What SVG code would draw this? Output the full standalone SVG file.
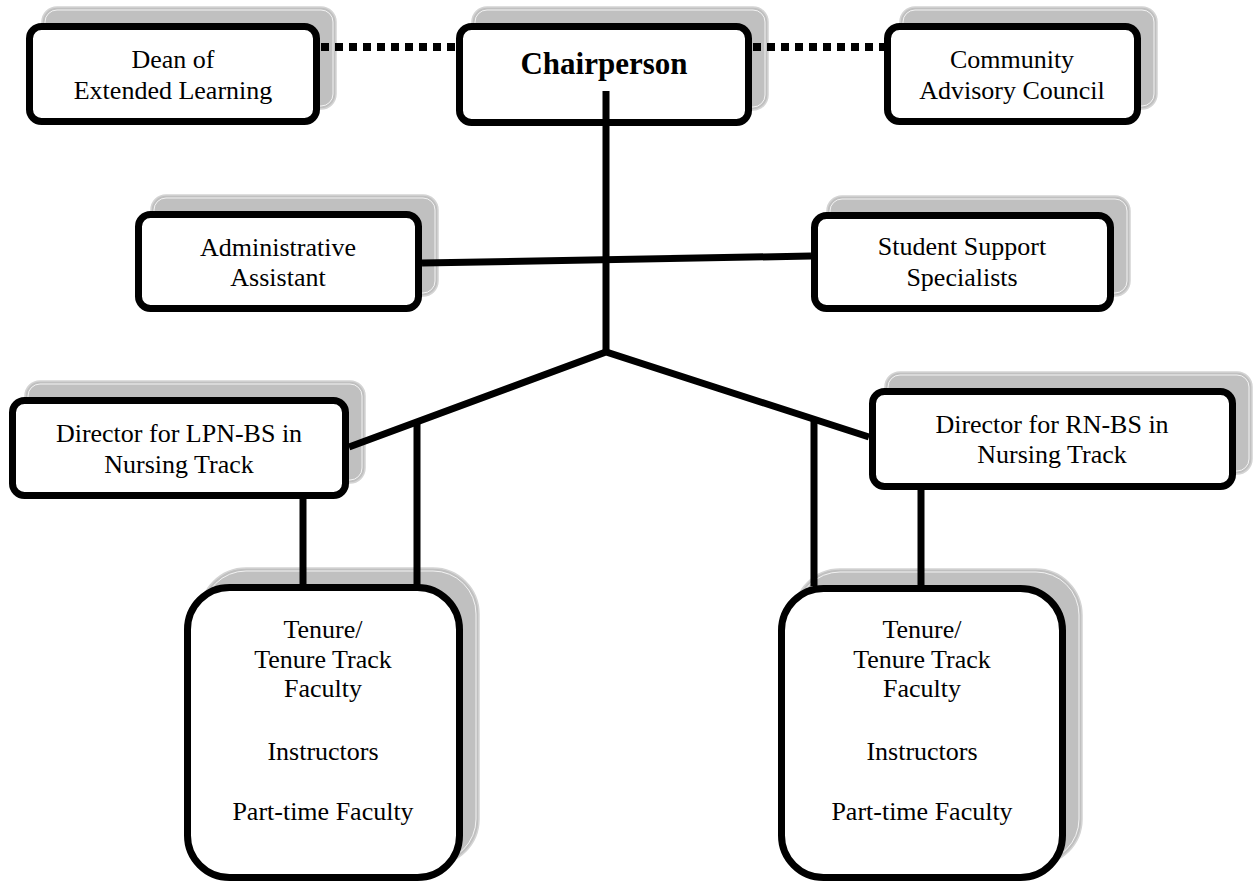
<svg xmlns="http://www.w3.org/2000/svg" width="1258" height="882" viewBox="0 0 1258 882">
  <style>
    .shadow { fill: #c0c0c0; stroke: #d4d4d4; stroke-width: 1.5; }
    .shadow-rim { fill: none; stroke: #ffffff; stroke-width: 0.8; }
    .box { fill: #ffffff; stroke: #000000; stroke-width: 7; }
    .label { font-family: "Liberation Serif", "Times New Roman", serif; font-size: 26px; fill: #000000; text-anchor: middle; }
    .title { font-family: "Liberation Serif", "Times New Roman", serif; font-size: 31px; font-weight: bold; fill: #000000; text-anchor: middle; }
    .link { stroke: #000000; stroke-width: 7; fill: none; }
    .dotted { stroke: #000000; stroke-width: 8; fill: none; stroke-dasharray: 8 6; }
  </style>

  <g id="dean">
    <rect class="shadow" x="42" y="7" width="294" height="102" rx="15"/>
    <rect class="shadow-rim" x="45" y="10" width="288" height="96" rx="12"/>
    <rect class="box" x="29.5" y="26.5" width="287" height="95" rx="12"/>
    <text class="label" x="173" y="68">Dean of</text>
    <text class="label" x="173" y="99">Extended Learning</text>
  </g>

  <g id="chairperson">
    <rect class="shadow" x="472" y="7" width="296" height="103" rx="15"/>
    <rect class="shadow-rim" x="475" y="10" width="290" height="97" rx="12"/>
    <rect class="box" x="459.5" y="26.5" width="289" height="96" rx="12"/>
    <text class="title" x="604" y="74">Chairperson</text>
  </g>

  <g id="advisory-council">
    <rect class="shadow" x="900" y="7" width="257" height="102" rx="15"/>
    <rect class="shadow-rim" x="903" y="10" width="251" height="96" rx="12"/>
    <rect class="box" x="887.5" y="26.5" width="250" height="95" rx="12"/>
    <text class="label" x="1012" y="68">Community</text>
    <text class="label" x="1012" y="99">Advisory Council</text>
  </g>

  <g id="admin-assistant">
    <rect class="shadow" x="151" y="195" width="287" height="101" rx="15"/>
    <rect class="shadow-rim" x="154" y="198" width="281" height="95" rx="12"/>
    <rect class="box" x="138.5" y="214.5" width="280" height="94" rx="12"/>
    <text class="label" x="278" y="256">Administrative</text>
    <text class="label" x="278" y="286">Assistant</text>
  </g>

  <g id="student-support">
    <rect class="shadow" x="827" y="196" width="303" height="100" rx="15"/>
    <rect class="shadow-rim" x="830" y="199" width="297" height="94" rx="12"/>
    <rect class="box" x="814.5" y="215.5" width="296" height="93" rx="12"/>
    <text class="label" x="962" y="255">Student Support</text>
    <text class="label" x="962" y="286">Specialists</text>
  </g>

  <g id="lpn-director">
    <rect class="shadow" x="25" y="381" width="340" height="102" rx="15"/>
    <rect class="shadow-rim" x="28" y="384" width="334" height="96" rx="12"/>
    <rect class="box" x="12.5" y="400.5" width="333" height="95" rx="12"/>
    <text class="label" x="179" y="442">Director for LPN-BS in</text>
    <text class="label" x="179" y="473">Nursing Track</text>
  </g>

  <g id="rn-director">
    <rect class="shadow" x="885" y="372" width="367" height="102" rx="15"/>
    <rect class="shadow-rim" x="888" y="375" width="361" height="96" rx="12"/>
    <rect class="box" x="872.5" y="391.5" width="360" height="95" rx="12"/>
    <text class="label" x="1052" y="433">Director for RN-BS in</text>
    <text class="label" x="1052" y="463">Nursing Track</text>
  </g>

  <g id="lpn-faculty">
    <rect class="shadow" x="200" y="568" width="279" height="297" rx="46"/>
    <rect class="shadow-rim" x="203" y="571" width="273" height="291" rx="43"/>
    <rect class="box" x="187.5" y="587.5" width="272" height="290" rx="42"/>
    <text class="label" x="323" y="638">Tenure/</text>
    <text class="label" x="323" y="668">Tenure Track</text>
    <text class="label" x="323" y="697">Faculty</text>
    <text class="label" x="323" y="760">Instructors</text>
    <text class="label" x="323" y="820">Part-time Faculty</text>
  </g>

  <g id="rn-faculty">
    <rect class="shadow" x="794" y="569" width="288" height="296" rx="46"/>
    <rect class="shadow-rim" x="797" y="572" width="282" height="290" rx="43"/>
    <rect class="box" x="781.5" y="588.5" width="281" height="289" rx="42"/>
    <text class="label" x="922" y="638">Tenure/</text>
    <text class="label" x="922" y="668">Tenure Track</text>
    <text class="label" x="922" y="697">Faculty</text>
    <text class="label" x="922" y="760">Instructors</text>
    <text class="label" x="922" y="820">Part-time Faculty</text>
  </g>

  <g id="connectors">
    <!-- advisory (dotted) relations -->
    <line class="dotted" x1="321" y1="47" x2="456" y2="47"/>
    <line class="dotted" x1="753" y1="47" x2="884" y2="47"/>
    <!-- chairperson trunk and branches -->
    <line class="link" x1="606" y1="91" x2="606" y2="352"/>
    <polyline class="link" points="349,447 606,352 869,437" stroke-linejoin="miter"/>
    <line class="link" x1="422" y1="263" x2="811" y2="256"/>
    <!-- drops to faculty groups -->
    <line class="link" x1="303" y1="499" x2="303" y2="585"/>
    <line class="link" x1="417" y1="421" x2="417" y2="585"/>
    <line class="link" x1="814" y1="419" x2="814" y2="586"/>
    <line class="link" x1="921" y1="490" x2="921" y2="586"/>
  </g>
</svg>
